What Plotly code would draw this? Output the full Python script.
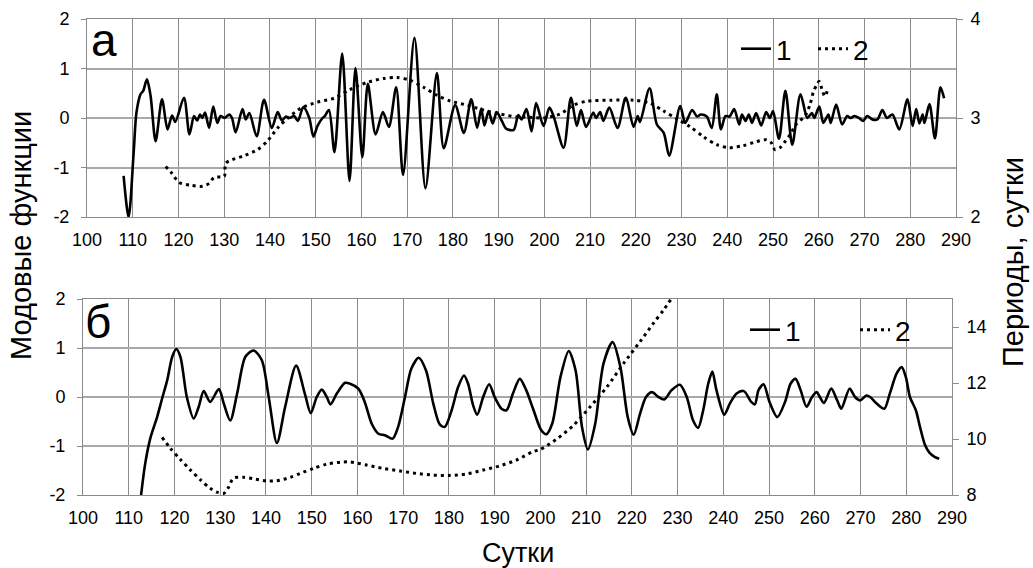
import plotly.graph_objects as go

# ---- panel "а": mode function (left axis) and period (right axis) ----
a_days1 = [108.0, 109.1, 110.2, 110.8, 111.7, 112.3, 113.1, 113.9, 115.0, 116.4, 117.6, 118.6, 119.3,
           121.2, 122.4, 123.4, 124.1, 124.7, 125.2, 125.8, 126.7, 127.6, 128.5, 129.2, 130.1, 131.1,
           131.7, 132.5, 134.0, 134.7, 135.5, 137.1, 138.7, 140.4, 141.7, 142.6, 143.5, 144.2, 145.3,
           146.1, 147.3, 148.6, 149.5, 150.4, 151.5, 152.0, 152.9, 154.1, 155.8, 157.4, 158.7, 160.2,
           161.4, 163.1, 164.7, 166.0, 167.6, 169.1, 171.6, 174.0, 176.5, 178.0, 180.5, 182.4, 184.0,
           185.3, 186.2, 186.9, 187.8, 188.7, 189.6, 190.7, 191.7, 193.3, 194.3, 195.0, 196.1, 197.2,
           198.2, 199.8, 201.1, 202.0, 204.2, 205.8, 207.1, 208.0, 209.1, 210.7, 211.3, 212.2, 212.9,
           214.2, 216.0, 217.8, 219.5, 220.4, 220.9, 223.0, 224.6, 226.1, 227.3, 229.7, 230.8, 232.3,
           233.4, 234.2, 235.5, 236.6, 237.7, 238.6, 239.6, 240.5, 241.5, 242.6, 243.2, 244.0, 244.7,
           245.4, 246.3, 247.4, 248.5, 249.3, 250.0, 251.3, 252.7, 254.2, 256.0, 257.5, 258.5, 259.0,
           260.1, 261.0, 262.1, 262.6, 263.8, 265.1, 266.2, 266.9, 267.8, 268.8, 269.7, 270.6, 271.7,
           272.8, 273.9, 274.9, 276.1, 277.6, 279.4, 280.5, 281.3, 282.0, 282.7, 283.1, 284.2, 285.4,
           286.6, 287.4]
a_mode1 = [-1.17, -2.0, -0.7, 0.1, 0.48, 0.55, 0.78, 0.45, -0.47, 0.38, -0.23, 0.05, -0.08,
           0.41, -0.33, 0.04, -0.05, 0.07, 0.0, 0.11, -0.2, 0.23, -0.1, 0.04, 0.0, 0.07,
           0.0, -0.29, 0.18, -0.03, 0.1, -0.37, 0.37, -0.2, 0.12, -0.05, 0.03, 0.0, 0.04,
           -0.06, 0.22, 0.0, -0.38, -0.16, 0.0, 0.04, 0.16, -0.69, 1.3, -1.27, 1.01, -0.79,
           0.69, -0.33, 0.12, -0.18, 0.62, -1.15, 1.62, -1.42, 0.91, -0.61, 0.26, -0.3, 0.38,
           -0.2, 0.19, -0.15, 0.14, -0.11, 0.12, -0.06, -0.22, -0.24, 0.06, -0.03, 0.18, -0.27,
           0.3, -0.16, 0.21, 0.04, -0.6, 0.41, -0.16, 0.16, -0.18, 0.11, 0.0, 0.12, -0.06,
           0.21, -0.2, 0.41, -0.18, 0.04, -0.08, 0.6, -0.13, -0.3, -0.76, 0.24, -0.1, 0.16,
           0.03, 0.07, 0.03, -0.2, 0.48, -0.23, 0.04, 0.03, 0.18, -0.13, 0.07, -0.06, 0.07,
           -0.1, 0.1, -0.15, 0.12, 0.0, 0.14, -0.42, 0.55, -0.54, 0.48, 0.0, 0.1, 0.0,
           0.23, -0.1, 0.07, -0.1, 0.27, -0.13, 0.04, 0.0, 0.04, 0.0, -0.06, 0.04, -0.03,
           -0.03, 0.16, 0.0, 0.07, -0.23, 0.38, -0.16, 0.18, -0.11, 0.07, -0.1, 0.28, -0.41,
           0.62, 0.4]

a_days2 = [117.2, 118.6, 120.1, 122.7, 125.2, 126.7, 127.8, 130.0, 130.3, 131.8, 134.4, 137.3,
           139.5, 141.7, 143.9, 146.8, 150.4, 154.0, 157.6, 161.3, 164.9, 167.8, 170.7, 173.6,
           176.5, 179.5, 183.1, 186.7, 190.4, 194.0, 196.1, 199.8, 203.4, 206.4, 209.3, 214.4,
           219.5, 223.1, 226.1, 229.0, 231.9, 234.8, 237.7, 240.4, 243.4, 246.3, 248.5, 249.6,
           250.4, 251.5, 252.6, 253.7, 255.1, 257.0, 258.1, 258.8, 259.6, 260.1, 260.7, 261.3,
           261.9]
a_period2 = [2.51, 2.44, 2.35, 2.32, 2.31, 2.34, 2.40, 2.41, 2.54, 2.58, 2.62, 2.68,
             2.77, 2.90, 3.00, 3.10, 3.16, 3.20, 3.29, 3.36, 3.40, 3.41, 3.38, 3.31,
             3.23, 3.17, 3.13, 3.08, 3.04, 3.01, 3.01, 3.00, 3.04, 3.13, 3.17, 3.18,
             3.18, 3.15, 3.07, 2.99, 2.91, 2.81, 2.73, 2.70, 2.72, 2.76, 2.78, 2.75,
             2.68, 2.70, 2.76, 2.83, 2.94, 3.02, 3.14, 3.26, 3.34, 3.37, 3.29, 3.22,
             3.28]

# ---- panel "б" ----
b_days1 = [112.7, 113.6, 114.7, 116.2, 117.3, 118.4, 119.5, 120.4, 121.3, 122.7, 124.2, 125.3,
           126.4, 127.8, 129.7, 130.8, 132.2, 133.7, 135.5, 137.3, 139.1, 140.6, 142.4, 144.2,
           146.6, 148.5, 149.8, 151.1, 152.2, 153.3, 154.1, 155.5, 157.3, 158.4, 160.2, 161.6,
           163.1, 164.6, 166.0, 167.7, 168.9, 170.4, 171.8, 173.4, 175.0, 176.6, 178.0, 179.1,
           180.6, 182.0, 183.3, 184.2, 185.3, 186.2, 187.5, 188.8, 190.0, 191.5, 192.6, 194.0,
           195.5, 196.9, 198.4, 200.2, 201.3, 202.6, 204.4, 206.2, 207.7, 209.1, 210.4, 212.0,
           213.8, 215.8, 217.5, 219.1, 220.4, 221.8, 223.1, 224.4, 225.8, 227.1, 228.7, 230.5,
           232.0, 233.4, 234.5, 235.6, 236.7, 237.6, 238.5, 240.2, 241.4, 242.9, 244.5, 246.1,
           246.9, 247.7, 248.8, 250.1, 251.8, 253.5, 254.7, 255.8, 256.9, 258.2, 259.4, 260.4,
           261.1, 262.0, 263.6, 264.9, 265.8, 267.6, 268.8, 269.9, 271.3, 272.1, 273.6, 275.2,
           276.4, 277.9, 279.0, 279.9, 280.8, 282.1, 283.0, 284.1, 285.1, 286.2, 287.2]
b_mode1 = [-2.0, -1.36, -0.85, -0.41, -0.03, 0.34, 0.82, 0.98, 0.82, 0.0, -0.44, -0.2,
           0.12, -0.1, 0.16, -0.14, -0.48, 0.07, 0.82, 0.95, 0.75, 0.0, -0.94, -0.2,
           0.64, 0.07, -0.33, 0.0, 0.15, 0.0, -0.15, 0.07, 0.29, 0.27, 0.17, -0.1,
           -0.54, -0.75, -0.78, -0.85, -0.61, 0.0, 0.58, 0.8, 0.54, -0.14, -0.56, -0.61,
           -0.27, 0.2, 0.44, 0.27, -0.17, -0.36, 0.0, 0.26, 0.0, -0.24, -0.27, 0.07,
           0.37, 0.14, -0.24, -0.68, -0.76, -0.54, 0.41, 0.94, 0.54, -0.61, -1.07, -0.54,
           0.68, 1.12, 0.61, -0.41, -0.77, -0.34, 0.0, 0.1, 0.0, -0.05, 0.14, 0.25,
           0.0, -0.48, -0.63, -0.27, 0.27, 0.52, 0.14, -0.36, -0.14, 0.07, 0.12, -0.1,
           -0.15, 0.14, 0.26, -0.1, -0.41, -0.1, 0.27, 0.37, 0.14, -0.2, 0.0, 0.1,
           0.0, -0.12, 0.17, -0.07, -0.24, 0.17, 0.0, -0.07, 0.03, 0.0, -0.14, -0.24,
           0.07, 0.48, 0.61, 0.41, 0.0, -0.27, -0.61, -0.98, -1.14, -1.22, -1.26]

b_days2 = [117.3, 119.1, 121.3, 123.5, 125.7, 127.8, 129.3, 130.8, 131.8, 132.9, 135.1, 137.3,
           140.2, 142.4, 145.3, 147.5, 150.4, 153.3, 156.2, 158.4, 162.0, 165.6, 169.3, 172.9,
           176.6, 180.2, 183.8, 187.5, 191.1, 194.8, 198.4, 200.0, 203.6, 207.3, 210.9, 214.6,
           218.2, 221.8, 224.7, 226.9, 228.6]
b_period2 = [10.06, 9.67, 9.27, 8.89, 8.54, 8.24, 8.10, 8.06, 8.27, 8.60, 8.63, 8.58,
             8.50, 8.51, 8.63, 8.77, 8.95, 9.10, 9.17, 9.18, 9.07, 8.95, 8.86, 8.77,
             8.71, 8.70, 8.75, 8.89, 9.04, 9.25, 9.55, 9.63, 10.00, 10.50, 11.15, 11.87,
             12.70, 13.48, 14.13, 14.60, 15.00]

# ---- axis ticks ----
x_ticks = list(range(100, 300, 10))
left_vals = [-2, -1, 0, 1, 2]
left_text = ["-2", "-1", "0", "1", "2"]
right_a_vals = [2, 3, 4]
right_b_vals = [8, 10, 12, 14]

FONT = "Arial, Liberation Sans, sans-serif"
GRID_V = "#8a8a8a"
GRID_H = "#a8a8a8"
W, H = 1033, 568

solid = dict(color="black", width=2.6, shape="spline", smoothing=0.8)
dotted = dict(color="black", width=3, dash="3px,4px", shape="spline", smoothing=0.8)

fig = go.Figure()
fig.add_trace(go.Scatter(x=a_days1, y=a_mode1, mode="lines", line=solid, name="1",
                         xaxis="x", yaxis="y", legend="legend"))
fig.add_trace(go.Scatter(x=a_days2, y=a_period2, mode="lines", line=dotted, name="2",
                         xaxis="x", yaxis="y2", legend="legend"))
fig.add_trace(go.Scatter(x=b_days1, y=b_mode1, mode="lines", line=solid, name="1",
                         xaxis="x2", yaxis="y3", legend="legend2"))
fig.add_trace(go.Scatter(x=b_days2, y=b_period2, mode="lines", line=dotted, name="2",
                         xaxis="x2", yaxis="y4", legend="legend2"))


def px_x(p):
    return p / W


def px_y(p):
    return 1 - p / H


tickfont = dict(family=FONT, size=18, color="black")

xcommon = dict(range=[100, 290], tickvals=x_ticks, showgrid=True, gridcolor=GRID_V, gridwidth=1,
               showline=True, linecolor=GRID_V, linewidth=1, mirror=True, zeroline=False,
               ticks="", tickfont=tickfont, ticklabelstandoff=6, automargin=False)
ycommon = dict(range=[-2, 2], tickvals=left_vals, ticktext=left_text, showgrid=True,
               gridcolor=GRID_H, gridwidth=1.5, showline=True, linecolor=GRID_V, linewidth=1,
               mirror=True, zeroline=False, ticks="outside", ticklen=5, tickcolor=GRID_V,
               tickfont=tickfont, ticklabelstandoff=8, automargin=False)
yright = dict(side="right", showgrid=False, zeroline=False, ticks="outside", ticklen=6,
              tickcolor=GRID_V, showline=False, tickfont=tickfont, ticklabelstandoff=4,
              automargin=False)

legend_font = dict(family=FONT, size=28, color="black")

fig.update_layout(
    template="none",
    width=W, height=H, autosize=False,
    margin=dict(l=0, r=0, t=0, b=0, pad=0, autoexpand=False),
    paper_bgcolor="white", plot_bgcolor="white",
    font=dict(family=FONT, color="black"),
    xaxis=dict(domain=[px_x(87), px_x(956)], anchor="y", **xcommon),
    yaxis=dict(domain=[px_y(217), px_y(19)], anchor="x", **ycommon),
    yaxis2=dict(range=[2, 4], tickvals=right_a_vals, overlaying="y", anchor="x", **yright),
    xaxis2=dict(domain=[px_x(83), px_x(952)], anchor="y3", **xcommon),
    yaxis3=dict(domain=[px_y(495), px_y(299)], anchor="x2", **ycommon),
    yaxis4=dict(range=[8, 15], tickvals=right_b_vals, overlaying="y3", anchor="x2", **yright),
    legend=dict(orientation="h", x=px_x(736), y=px_y(49), xanchor="left", yanchor="middle",
                bgcolor="rgba(0,0,0,0)", font=legend_font,
                itemwidth=30, entrywidthmode="pixels", entrywidth=32),
    legend2=dict(orientation="h", x=px_x(745), y=px_y(330), xanchor="left", yanchor="middle",
                 bgcolor="rgba(0,0,0,0)", font=legend_font,
                 itemwidth=30, entrywidthmode="pixels", entrywidth=65),
    showlegend=True,
)

ann = [
    dict(text="а", x=px_x(104), y=px_y(40), xref="paper", yref="paper", showarrow=False,
         font=dict(family=FONT, size=46, color="black"), xanchor="center", yanchor="middle"),
    dict(text="б", x=px_x(98), y=px_y(322), xref="paper", yref="paper", showarrow=False,
         font=dict(family=FONT, size=46, color="black"), xanchor="center", yanchor="middle"),
    dict(text="Сутки", x=px_x(518), y=px_y(553), xref="paper", yref="paper", showarrow=False,
         font=dict(family=FONT, size=27, color="black"), xanchor="center", yanchor="middle"),
    dict(text="Модовые функции", x=px_x(21), y=px_y(236), xref="paper", yref="paper",
         showarrow=False, textangle=-90, font=dict(family=FONT, size=29, color="black"),
         xanchor="center", yanchor="middle"),
    dict(text="Периоды, сутки", x=px_x(1013), y=px_y(262), xref="paper", yref="paper",
         showarrow=False, textangle=-90, font=dict(family=FONT, size=29, color="black"),
         xanchor="center", yanchor="middle"),
]
fig.update_layout(annotations=ann)

fig.write_html("out.html", config={"displayModeBar": False})
